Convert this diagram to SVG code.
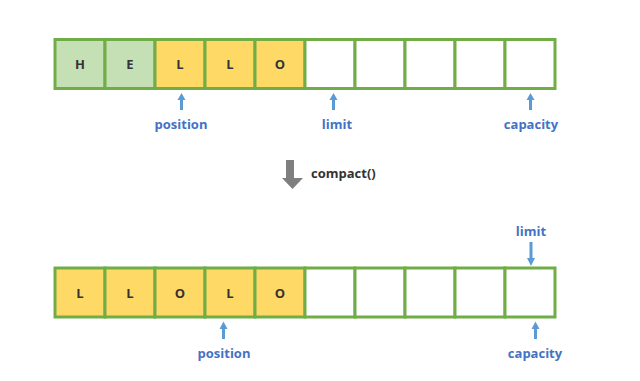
<svg xmlns="http://www.w3.org/2000/svg" width="640" height="381" viewBox="0 0 640 381">
<style>
.cell{stroke:#70AD47;stroke-width:3}
.g{fill:#C5E0B4}
.y{fill:#FFD966}
.w{fill:#FFFFFF}
.ch{font-family:"Open Sans","DejaVu Sans",sans-serif;font-weight:bold;font-size:13px;fill:#333333;text-anchor:middle;dominant-baseline:central}
.lb{font-family:"Open Sans","DejaVu Sans",sans-serif;font-weight:bold;font-size:13px;fill:#4472C4;text-anchor:middle;dominant-baseline:central}
.ar{fill:#5B9BD5}
</style>
<rect width="640" height="381" fill="#FFFFFF"/>
<g id="top-row">
<rect class="cell g" x="55" y="39.5" width="50" height="49"/>
<rect class="cell g" x="105" y="39.5" width="50" height="49"/>
<rect class="cell y" x="155" y="39.5" width="50" height="49"/>
<rect class="cell y" x="205" y="39.5" width="50" height="49"/>
<rect class="cell y" x="255" y="39.5" width="50" height="49"/>
<rect class="cell w" x="305" y="39.5" width="50" height="49"/>
<rect class="cell w" x="355" y="39.5" width="50" height="49"/>
<rect class="cell w" x="405" y="39.5" width="50" height="49"/>
<rect class="cell w" x="455" y="39.5" width="50" height="49"/>
<rect class="cell w" x="505" y="39.5" width="50" height="49"/>
<text class="ch" x="80" y="64">H</text>
<text class="ch" x="130" y="64">E</text>
<text class="ch" x="180" y="64">L</text>
<text class="ch" x="230" y="64">L</text>
<text class="ch" x="280" y="64">O</text>
</g>
<g id="bottom-row">
<rect class="cell y" x="55" y="268" width="50" height="49"/>
<rect class="cell y" x="105" y="268" width="50" height="49"/>
<rect class="cell y" x="155" y="268" width="50" height="49"/>
<rect class="cell y" x="205" y="268" width="50" height="49"/>
<rect class="cell y" x="255" y="268" width="50" height="49"/>
<rect class="cell w" x="305" y="268" width="50" height="49"/>
<rect class="cell w" x="355" y="268" width="50" height="49"/>
<rect class="cell w" x="405" y="268" width="50" height="49"/>
<rect class="cell w" x="455" y="268" width="50" height="49"/>
<rect class="cell w" x="505" y="268" width="50" height="49"/>
<text class="ch" x="80" y="292.5">L</text>
<text class="ch" x="130" y="292.5">L</text>
<text class="ch" x="180" y="292.5">O</text>
<text class="ch" x="230" y="292.5">L</text>
<text class="ch" x="280" y="292.5">O</text>
</g>
<g id="connectors">
<path class="ar" d="M181.5,93 L185.5,100 L183,100 L183,110 L180,110 L180,100 L177.5,100 Z"/>
<path class="ar" d="M333.5,93 L337.5,100 L335,100 L335,110 L332,110 L332,100 L329.5,100 Z"/>
<path class="ar" d="M530.5,93 L534.5,100 L532,100 L532,110 L529,110 L529,100 L526.5,100 Z"/>
<path class="ar" d="M531,266 L527,258 L529.5,258 L529.5,242 L532.5,242 L532.5,258 L535,258 Z"/>
<path class="ar" d="M223.5,321.5 L227.5,329 L225,329 L225,339 L222,339 L222,329 L219.5,329 Z"/>
<path class="ar" d="M535.5,321.5 L539.5,329 L537,329 L537,339 L534,339 L534,329 L531.5,329 Z"/>
<path fill="#7F7F7F" d="M286,160 L294,160 L294,178 L303,178 L292.5,189 L282,178 L286,178 Z"/>
</g>
<g id="labels">
<text class="lb" x="181" y="124">position</text>
<text class="lb" x="337" y="124">limit</text>
<text class="lb" x="531" y="124">capacity</text>
<text class="lb" x="531" y="231">limit</text>
<text class="lb" x="224" y="352.5">position</text>
<text class="lb" x="535" y="352.5">capacity</text>
<text x="311" y="173" font-family="Open Sans, DejaVu Sans, sans-serif" font-weight="bold" font-size="13" fill="#333333" dominant-baseline="central">compact()</text>
</g>
</svg>
